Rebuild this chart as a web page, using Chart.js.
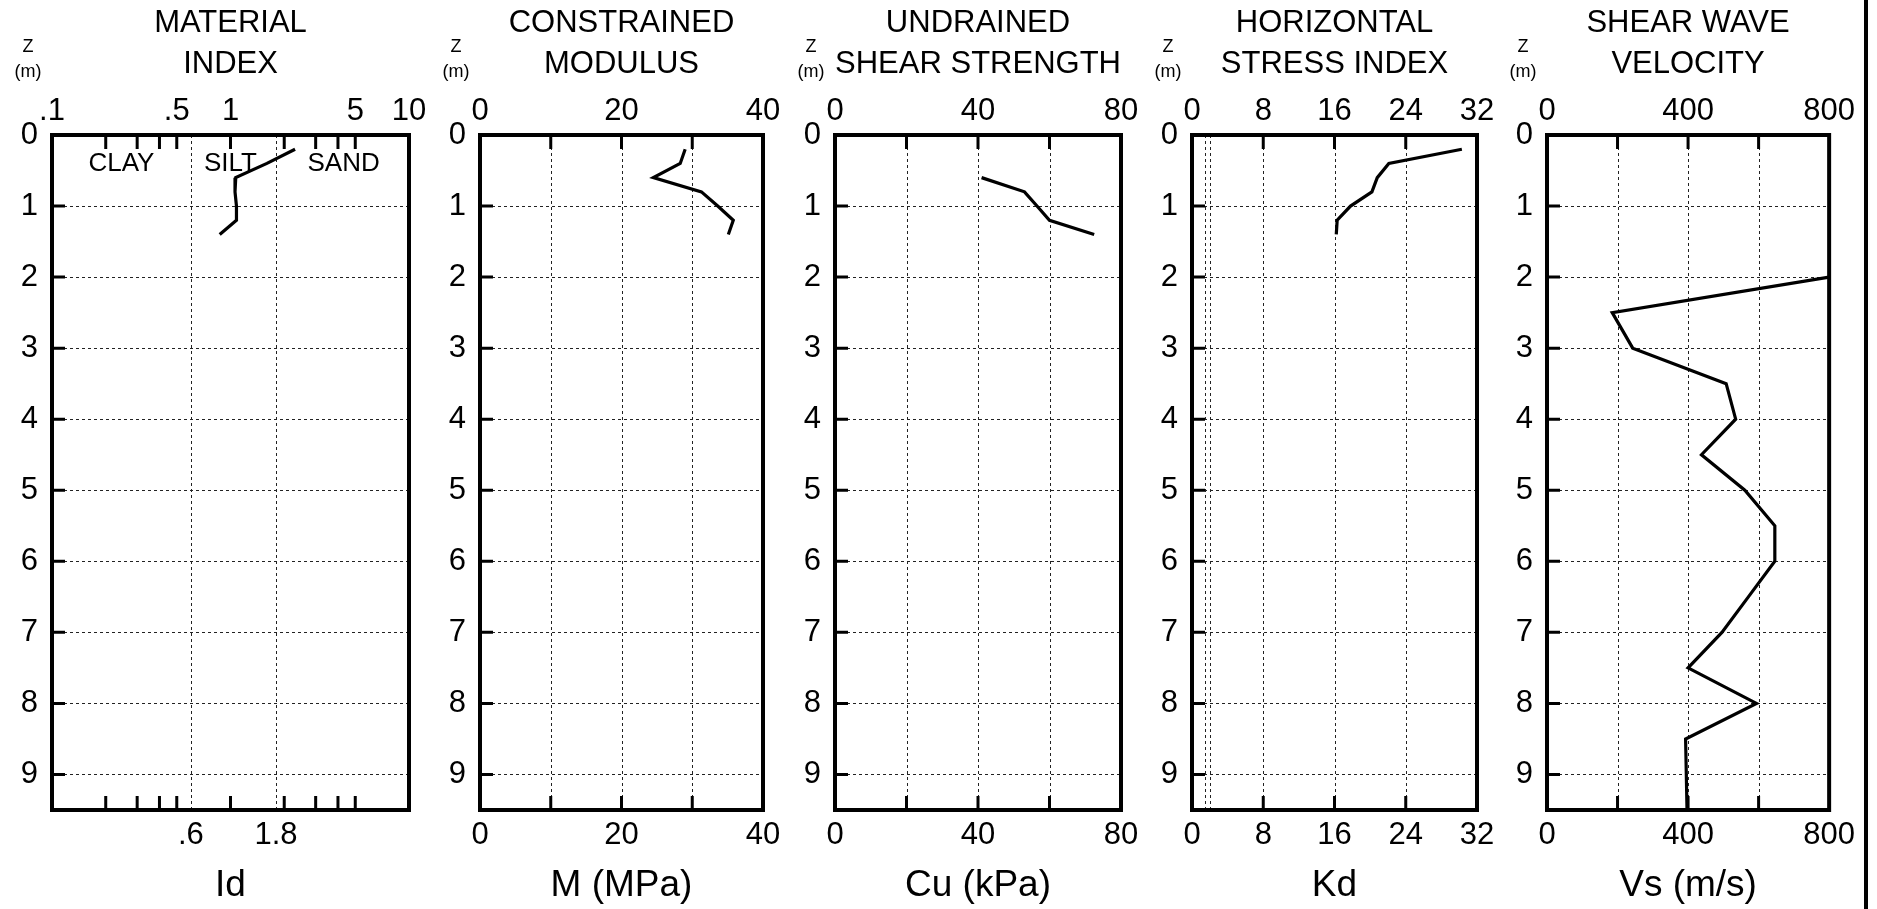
<!DOCTYPE html>
<html>
<head>
<meta charset="utf-8">
<title>DMT / SDMT profile</title>
<script src="https://cdn.jsdelivr.net/npm/chart.js@4.4.1/dist/chart.umd.min.js"></script>
<style>
  html, body { margin: 0; padding: 0; background: #fff; }
  #wrap { position: relative; width: 1877px; height: 909px; overflow: hidden; background: #fff; }
  #wrap canvas { position: absolute; top: 0; }
  #edge { position: absolute; left: 1864px; top: 0; width: 4px; height: 909px; background: #000; }
</style>
</head>
<body>
<div id="wrap">
  <canvas id="c-id"></canvas>
  <canvas id="c-m"></canvas>
  <canvas id="c-cu"></canvas>
  <canvas id="c-kd"></canvas>
  <canvas id="c-vs"></canvas>
  <div id="edge"></div>
</div>
<script>
// --- DATA ---
const depthTicks = [0, 1, 2, 3, 4, 5, 6, 7, 8, 9];
const depthGridLines = [1, 2, 3, 4, 5, 6, 7, 8, 9];

// Material index Id (log axis)
const idDepth = [0.2, 0.4, 0.6, 0.8, 1.0, 1.2, 1.4];
const idValues = [2.3, 1.6, 1.07, 1.06, 1.08, 1.08, 0.87];
const idTopTicks = [0.1, 0.5, 1, 5, 10];
const idTopLabels = ['.1', '.5', '1', '5', '10'];
const idBottomTicks = [0.6, 1.8];
const idBottomLabels = ['.6', '1.8'];
const idGridLines = [0.6, 1.8];
const idMinorTicks = [0.2, 0.3, 0.4, 0.5, 1, 2, 3, 4, 5];
const soilZones = ['CLAY', 'SILT', 'SAND'];
const soilZoneId = [0.245, 1.0, 4.3];
const soilZoneDepth = 0.4;

// Constrained modulus M (MPa)
const mDepth = [0.2, 0.4, 0.6, 0.8, 1.0, 1.2, 1.4];
const mValues = [29, 28.3, 24.5, 31.3, 33.6, 35.8, 35.1];
const mTicks = [0, 20, 40];
const mGridLines = [10, 20, 30];

// Undrained shear strength Cu (kPa)
const cuDepth = [0.6, 0.8, 1.0, 1.2, 1.4];
const cuValues = [41, 53, 56.5, 60, 72.5];
const cuTicks = [0, 40, 80];
const cuGridLines = [20, 40, 60];

// Horizontal stress index Kd
const kdDepth = [0.2, 0.4, 0.6, 0.8, 1.0, 1.2, 1.4];
const kdValues = [30.3, 22.1, 20.8, 20.2, 17.8, 16.3, 16.2];
const kdTicks = [0, 8, 16, 24, 32];
const kdGridLines = [1.5, 2, 8, 16, 24];
const kdMinorTicks = [8, 16, 24];

// Shear wave velocity Vs (m/s)
const vsDepth = [2.0, 2.5, 3.0, 3.5, 4.0, 4.5, 5.0, 5.5, 6.0, 6.5, 7.0, 7.5, 8.0, 8.5, 9.0, 9.5];
const vsValues = [800, 185, 243, 508, 535, 438, 561, 646, 646, 571, 496, 400, 594, 393, 395, 397];
const vsTicks = [0, 400, 800];
const vsGridLines = [200, 400, 600];

// --- Layout ---
const FONT = '"Liberation Sans", Arial, Helvetica, sans-serif';
const CANVAS_H = 909;
const AXIS_W = 52;      // room for depth labels left of each box
const PAD_R = 30;       // room for the last tick label
const TOP_H = 135;      // title + top tick labels
const BOTTOM_H = 99;    // bottom tick labels + axis title

// --- Decoration plugin: dashed grid, frame, inward ticks, notes ---
const panelDecor = {
  id: 'panelDecor',
  beforeDatasetsDraw(chart, args, opts) {
    const { ctx, chartArea: a, scales } = chart;
    ctx.save();
    ctx.strokeStyle = '#222';
    ctx.lineWidth = 1;
    ctx.setLineDash([3, 3]);
    ctx.beginPath();
    opts.xGrid.forEach(v => {
      const px = Math.round(scales.x.getPixelForValue(v)) + 0.5;
      ctx.moveTo(px, a.top); ctx.lineTo(px, a.bottom);
    });
    opts.yGrid.forEach(v => {
      const py = Math.round(scales.y.getPixelForValue(v)) + 0.5;
      ctx.moveTo(a.left, py); ctx.lineTo(a.right, py);
    });
    ctx.stroke();
    ctx.restore();
  },
  afterDatasetsDraw(chart, args, opts) {
    const { ctx, chartArea: a, scales } = chart;
    ctx.save();
    ctx.strokeStyle = '#000';
    ctx.setLineDash([]);
    // inward tick marks
    ctx.lineWidth = 3;
    ctx.beginPath();
    opts.xTicks.forEach(v => {
      const px = scales.x.getPixelForValue(v);
      ctx.moveTo(px, a.top); ctx.lineTo(px, a.top + 14);
      ctx.moveTo(px, a.bottom); ctx.lineTo(px, a.bottom - 14);
    });
    opts.yGrid.forEach(v => {
      const py = scales.y.getPixelForValue(v);
      ctx.moveTo(a.left, py); ctx.lineTo(a.left + 13, py);
    });
    ctx.stroke();
    // frame
    ctx.lineWidth = 4;
    ctx.strokeRect(a.left, a.top, a.right - a.left, a.bottom - a.top);
    // notes inside the box
    ctx.fillStyle = '#000';
    ctx.textAlign = 'center';
    ctx.textBaseline = 'middle';
    ctx.font = '26px ' + FONT;
    opts.notes.forEach(n => {
      ctx.fillText(n.text, scales.x.getPixelForValue(n.x), scales.y.getPixelForValue(n.y));
    });
    // depth unit label
    ctx.font = '18px ' + FONT;
    ctx.fillText('Z', a.left - 24, 47);
    ctx.fillText('(m)', a.left - 24, 72);
    ctx.restore();
  }
};

function labelFor(values, labels) {
  return v => {
    const i = values.findIndex(t => Math.abs(t - v) < 1e-9);
    return i < 0 ? '' : labels[i];
  };
}

function makePanel(canvasId, p) {
  const canvas = document.getElementById(canvasId);
  canvas.width = (p.boxRight - p.boxLeft) + AXIS_W + PAD_R;
  canvas.height = CANVAS_H;
  canvas.style.left = (p.boxLeft - AXIS_W) + 'px';

  const xType = p.log ? 'logarithmic' : 'linear';
  const tickFont = { family: FONT, size: 31 };
  const noGrid = { display: false, drawTicks: false };

  return new Chart(canvas, {
    type: 'scatter',
    data: {
      datasets: [{
        data: p.values.map((v, i) => ({ x: v, y: p.depth[i] })),
        showLine: true,
        borderColor: '#000',
        borderWidth: 3.2,
        pointRadius: 0,
        tension: 0,
        fill: false
      }]
    },
    options: {
      responsive: false,
      animation: false,
      devicePixelRatio: 1,
      layout: { padding: { left: 0, right: PAD_R, top: 0, bottom: 0 } },
      plugins: {
        legend: { display: false },
        tooltip: { enabled: false },
        panelDecor: { xGrid: p.gridLines, yGrid: depthGridLines, xTicks: p.minorTicks, notes: p.notes || [] }
      },
      scales: {
        x: {
          type: xType, position: 'bottom', min: p.min, max: p.max,
          afterBuildTicks: s => { s.ticks = p.bottomTicks.map(v => ({ value: v })); },
          afterFit: s => { s.height = BOTTOM_H; },
          ticks: { callback: labelFor(p.bottomTicks, p.bottomLabels), font: tickFont, color: '#000', padding: 7, autoSkip: false, maxRotation: 0, minRotation: 0 },
          grid: noGrid,
          border: { display: false },
          title: { display: true, text: p.xTitle, color: '#000', font: { family: FONT, size: 37 }, padding: { top: 0, bottom: 1 } }
        },
        x2: {
          type: xType, position: 'top', min: p.min, max: p.max,
          afterBuildTicks: s => { s.ticks = p.topTicks.map(v => ({ value: v })); },
          afterFit: s => { s.height = TOP_H; },
          ticks: { callback: labelFor(p.topTicks, p.topLabels), font: tickFont, color: '#000', padding: 5, autoSkip: false, maxRotation: 0, minRotation: 0 },
          grid: noGrid,
          border: { display: false },
          title: { display: true, text: p.title, color: '#000', font: { family: FONT, size: 31, lineHeight: 1.32 }, padding: { top: 3, bottom: 0 } }
        },
        y: {
          type: 'linear', reverse: true, min: 0, max: 9.5,
          afterBuildTicks: s => { s.ticks = depthTicks.map(v => ({ value: v })); },
          afterFit: s => { s.width = AXIS_W; },
          ticks: { font: tickFont, color: '#000', padding: 14 },
          grid: noGrid,
          border: { display: false }
        }
      }
    },
    plugins: [panelDecor]
  });
}

// --- Panels ---
makePanel('c-id', {
  boxLeft: 52, boxRight: 409, log: true, min: 0.1, max: 10,
  depth: idDepth, values: idValues,
  topTicks: idTopTicks, topLabels: idTopLabels,
  bottomTicks: idBottomTicks, bottomLabels: idBottomLabels,
  gridLines: idGridLines, minorTicks: idMinorTicks,
  title: ['MATERIAL', 'INDEX'], xTitle: 'Id',
  notes: soilZones.map((t, i) => ({ text: t, x: soilZoneId[i], y: soilZoneDepth }))
});

makePanel('c-m', {
  boxLeft: 480, boxRight: 763, min: 0, max: 40,
  depth: mDepth, values: mValues,
  topTicks: mTicks, topLabels: mTicks.map(String),
  bottomTicks: mTicks, bottomLabels: mTicks.map(String),
  gridLines: mGridLines, minorTicks: mGridLines,
  title: ['CONSTRAINED', 'MODULUS'], xTitle: 'M (MPa)'
});

makePanel('c-cu', {
  boxLeft: 835, boxRight: 1121, min: 0, max: 80,
  depth: cuDepth, values: cuValues,
  topTicks: cuTicks, topLabels: cuTicks.map(String),
  bottomTicks: cuTicks, bottomLabels: cuTicks.map(String),
  gridLines: cuGridLines, minorTicks: cuGridLines,
  title: ['UNDRAINED', 'SHEAR STRENGTH'], xTitle: 'Cu (kPa)'
});

makePanel('c-kd', {
  boxLeft: 1192, boxRight: 1477, min: 0, max: 32,
  depth: kdDepth, values: kdValues,
  topTicks: kdTicks, topLabels: kdTicks.map(String),
  bottomTicks: kdTicks, bottomLabels: kdTicks.map(String),
  gridLines: kdGridLines, minorTicks: kdMinorTicks,
  title: ['HORIZONTAL', 'STRESS INDEX'], xTitle: 'Kd'
});

makePanel('c-vs', {
  boxLeft: 1547, boxRight: 1832, min: 0, max: 800,
  depth: vsDepth, values: vsValues,
  topTicks: vsTicks, topLabels: vsTicks.map(String),
  bottomTicks: vsTicks, bottomLabels: vsTicks.map(String),
  gridLines: vsGridLines, minorTicks: vsGridLines,
  title: ['SHEAR WAVE', 'VELOCITY'], xTitle: 'Vs (m/s)'
});
</script>
</body>
</html>
